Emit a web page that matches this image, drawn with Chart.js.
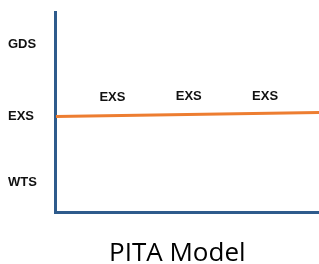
<!DOCTYPE html>
<html>
<head>
<meta charset="utf-8">
<script src="https://cdn.jsdelivr.net/npm/chart.js@4.4.0/dist/chart.umd.min.js"></script>
<style>
  html, body { margin: 0; padding: 0; background: #fff; }
  #wrap { width: 319px; height: 264px; }
</style>
</head>
<body>
<div id="wrap"><canvas id="myChart"></canvas></div>
<script>
// y axis levels (0-100 scale)
var levelNames = ["WTS", "EXS", "GDS"];
var levelValues = [15, 48, 84];

// the orange EXS line, start and end
var lineX = [0, 100];
var lineY = [48, 50];

// EXS labels along the line
var markText = ["EXS", "EXS", "EXS"];
var markX = [21.5, 50.5, 79.5];
var markY = [57.5, 58, 58];

var axisBlue = "#2e5b8c";
var lineOrange = "#ed7d31";

// draws the small labels above the line
var markLabels = {
  id: "markLabels",
  afterDatasetsDraw: function (chart) {
    var ctx = chart.ctx;
    var xs = chart.scales.x, ys = chart.scales.y;
    ctx.save();
    ctx.font = "bold 13px 'Liberation Sans', Arial, sans-serif";
    ctx.fillStyle = "#111";
    ctx.textAlign = "center";
    ctx.textBaseline = "middle";
    for (var i = 0; i < markText.length; i++) {
      ctx.fillText(markText[i], xs.getPixelForValue(markX[i]), ys.getPixelForValue(markY[i]));
    }
    ctx.restore();
  }
};

var ctx = document.getElementById("myChart").getContext("2d");
var myChart = new Chart(ctx, {
  type: "scatter",
  data: {
    datasets: [
      {
        data: lineX.map(function (x, i) { return { x: x, y: lineY[i] }; }),
        showLine: true,
        borderColor: lineOrange,
        borderWidth: 3,
        pointRadius: 0,
        pointHoverRadius: 0,
      },
    ],
  },
  options: {
    responsive: true,
    maintainAspectRatio: false,
    animation: false,
    layout: { padding: { left: 8, top: 4, right: 0, bottom: 0 } },
    plugins: {
      legend: { display: false },
      tooltip: { enabled: false },
      title: {
        display: true,
        position: "bottom",
        fullSize: false,
        // trailing spaces nudge the centred title left, like the original
        text: "PITA Model   ",
        color: "#000",
        font: { family: "'Open Sans', sans-serif", size: 26, weight: "normal", lineHeight: 0.8 },
        padding: { top: 31, bottom: 0 },
      },
    },
    scales: {
      x: {
        type: "linear",
        min: 0,
        max: 100,
        grid: { display: false, drawTicks: false },
        border: { display: true, color: axisBlue, width: 3 },
        ticks: { display: false },
      },
      y: {
        type: "linear",
        min: 0,
        max: 100,
        afterBuildTicks: function (scale) {
          scale.ticks = levelValues.map(function (v) { return { value: v }; });
        },
        grid: { display: false, drawTicks: false },
        border: { display: true, color: axisBlue, width: 3 },
        ticks: {
          autoSkip: false,
          crossAlign: "far",
          padding: 9.5,
          color: "#111",
          font: { family: "'Liberation Sans', Arial, sans-serif", size: 13, weight: "bold", lineHeight: 0.5 },
          callback: function (value) {
            var i = levelValues.indexOf(value);
            return i >= 0 ? levelNames[i] : "";
          },
        },
      },
    },
  },
  plugins: [markLabels],
});
</script>
</body>
</html>
